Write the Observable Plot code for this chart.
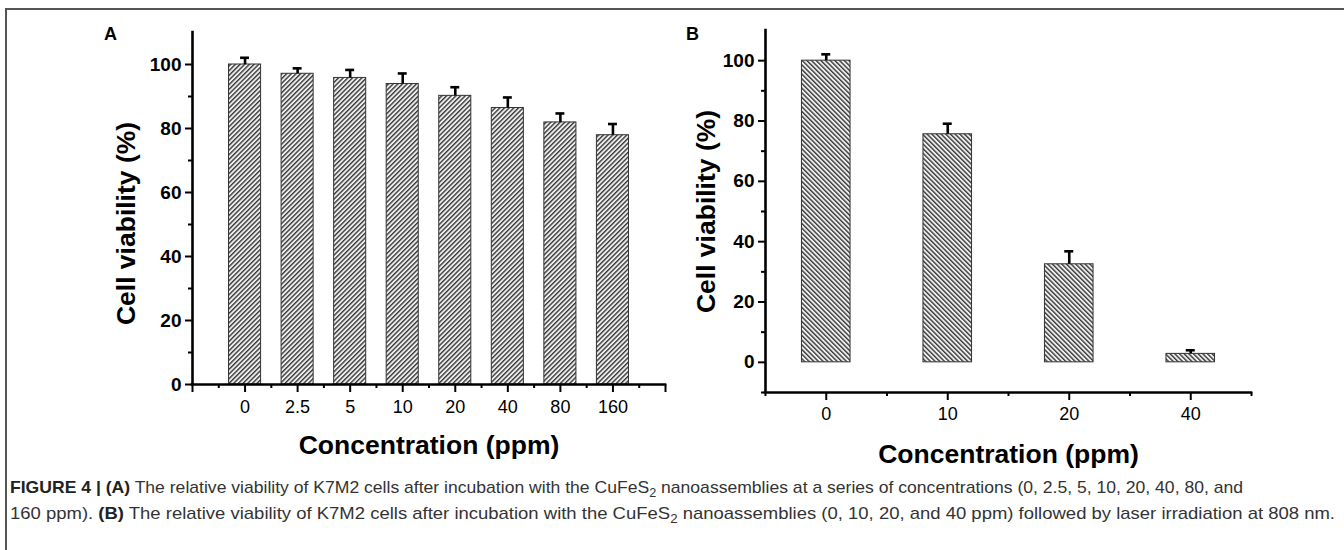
<!DOCTYPE html>
<html>
<head>
<meta charset="utf-8">
<script src="https://cdn.jsdelivr.net/npm/d3@7"></script>
<script src="https://cdn.jsdelivr.net/npm/@observablehq/plot@0.6"></script>
<style>
  html, body { margin: 0; padding: 0; background: #fff; }
  body { width: 1344px; height: 550px; position: relative; overflow: hidden; font-family: "Liberation Sans", Arial, sans-serif; }
  #frame { position: absolute; left: 5px; top: 8px; width: 1400px; height: 600px; border-top: 2px solid #555; border-left: 2px solid #555; }
  #panelA { position: absolute; left: 0; top: 0; }
  #panelB { position: absolute; left: 680px; top: 0; }
  .plabel { position: absolute; font-size: 18px; font-weight: bold; line-height: 1; color: #000; }
  .cap { position: absolute; left: 10px; white-space: nowrap; font-family: "Liberation Sans Narrow", "Arial Narrow", "Liberation Sans", Arial, sans-serif; font-size: 17px; line-height: 20px; color: #333; transform-origin: 0 50%; display: inline-block; }
  .cap b { color: #222; }
  .cap sub { font-size: 0.72em; vertical-align: -0.3em; line-height: 0; }
</style>
</head>
<body>
<div id="frame"></div>
<div id="panelA"></div>
<div id="panelB"></div>
<div class="plabel" style="left:104px; top:25px;">A</div>
<div class="plabel" style="left:686px; top:25px;">B</div>
<div class="cap" id="cap1" style="top:478px;"><b>FIGURE 4 | (A)</b> The relative viability of K7M2 cells after incubation with the CuFeS<sub>2</sub> nanoassemblies at a series of concentrations (0, 2.5, 5, 10, 20, 40, 80, and</div>
<div class="cap" id="cap2" style="top:504px;">160 ppm). <b>(B)</b> The relative viability of K7M2 cells after incubation with the CuFeS<sub>2</sub> nanoassemblies (0, 10, 20, and 40 ppm) followed by laser irradiation at 808 nm.</div>
<script>
// ---- Data: panel A ----
const concA = ["0", "2.5", "5", "10", "20", "40", "80", "160"];
const viabA = [100, 97.1, 95.8, 93.9, 90.2, 86.4, 81.9, 77.9];
const errA  = [2.1, 1.7, 2.5, 3.3, 2.7, 3.3, 2.8, 3.5];

// ---- Data: panel B ----
const concB = ["0", "10", "20", "40"];
const viabB = [100, 75.6, 32.5, 2.8];
const errB  = [2.1, 3.5, 4.3, 1.2];

// ---- Axis setup ----
const yTicksMajor = [0, 20, 40, 60, 80, 100];
const yTitle = "Cell viability (%)";
const xTitle = "Concentration (ppm)";

const FONT = "'Liberation Sans', Arial, Helvetica, sans-serif";

function addHatch(svg, id, angle) {
  const defs = d3.select(svg).insert("defs", ":first-child");
  const p = defs.append("pattern")
    .attr("id", id)
    .attr("patternUnits", "userSpaceOnUse")
    .attr("width", 3.3).attr("height", 3.3)
    .attr("patternTransform", `rotate(${angle})`);
  p.append("rect").attr("width", 3.3).attr("height", 3.3).attr("fill", "#eeeeee");
  p.append("rect").attr("width", 1.4).attr("height", 3.3).attr("fill", "#3a3a3a");
}

function panel({conc, viab, err, xDomain, yDomain, yMinor, xMinor, barHalf, capHalf,
                width, height, margins, hatchId, hatchAngle, yTitleDx, yTitleDy, xTitleDy, xTickPad}) {
  const data = conc.map((c, i) => ({i, c, v: viab[i], e: err[i]}));
  const xMajor = d3.range(Math.ceil(xDomain[0]), Math.floor(xDomain[1]) + 1);
  const svg = Plot.plot({
    width, height,
    marginLeft: margins[0], marginRight: margins[1], marginTop: margins[2], marginBottom: margins[3],
    x: {type: "linear", domain: xDomain, label: null},
    y: {type: "linear", domain: yDomain, label: null},
    style: {fontFamily: FONT, background: "transparent", overflow: "visible", color: "#000"},
    marks: [
      Plot.rectY(data, {x1: d => d.i - barHalf, x2: d => d.i + barHalf, y1: 0, y2: "v",
        fill: `url(#${hatchId})`, stroke: "#333", strokeWidth: 1}),
      Plot.ruleX(data, {x: "i", y1: "v", y2: d => d.v + d.e, stroke: "#000", strokeWidth: 2.6}),
      Plot.ruleY(data, {y: d => d.v + d.e, x1: d => d.i - capHalf, x2: d => d.i + capHalf, stroke: "#000", strokeWidth: 2.6}),
      Plot.axisY({ticks: yTicksMajor, tickSize: 7, tickPadding: 4, fontSize: 19, fontWeight: "bold",
        strokeWidth: 2, label: null}),
      Plot.axisY({ticks: yMinor, tickSize: 4, tickFormat: () => "", strokeWidth: 2, label: null}),
      Plot.axisX({ticks: xMajor, tickSize: 8, tickPadding: xTickPad, fontSize: 18,
        tickFormat: i => conc[i] ?? "", strokeWidth: 2, label: null}),
      Plot.axisX({ticks: xMinor, tickSize: 4, tickFormat: () => "", strokeWidth: 2, label: null}),
      Plot.ruleX([xDomain[0]], {stroke: "#000", strokeWidth: 2.6, strokeLinecap: "square"}),
      Plot.ruleY([yDomain[0]], {stroke: "#000", strokeWidth: 2.6, strokeLinecap: "square"}),
      Plot.text([yTitle], {text: d => d, frameAnchor: "left", textAnchor: "middle", rotate: -90,
        dx: yTitleDx, dy: yTitleDy, fontSize: 26.5, fontWeight: "bold", fill: "#000"}),
      Plot.text([xTitle], {text: d => d, frameAnchor: "bottom", textAnchor: "middle",
        dy: xTitleDy, fontSize: 26.5, fontWeight: "bold", fill: "#000"})
    ]
  });
  addHatch(svg, hatchId, hatchAngle);
  return svg;
}

const svgA = panel({
  conc: concA, viab: viabA, err: errA,
  xDomain: [-1, 8], yDomain: [0, 110],
  yMinor: [10, 30, 50, 70, 90],
  xMinor: d3.range(-0.5, 8, 1),
  barHalf: 0.305, capHalf: 0.085,
  width: 680, height: 470, margins: [192, 15, 32, 86],
  hatchId: "hatchA", hatchAngle: 45,
  yTitleDx: -66, yTitleDy: 15, xTitleDy: 69, xTickPad: 8
});
document.getElementById("panelA").appendChild(svgA);

const svgB = panel({
  conc: concB, viab: viabB, err: errB,
  xDomain: [-0.5, 3.5], yDomain: [-10, 110],
  yMinor: [-10, 10, 30, 50, 70, 90],
  xMinor: d3.range(-0.5, 3.6, 1),
  barHalf: 0.2, capHalf: 0.037,
  width: 664, height: 470, margins: [85, 93, 30, 78],
  hatchId: "hatchB", hatchAngle: -45,
  yTitleDx: -59, yTitleDy: 0, xTitleDy: 70, xTickPad: 7
});
document.getElementById("panelB").appendChild(svgB);

// fit caption lines to their widths in the reference
[["cap1", 1233], ["cap2", 1325]].forEach(([id, target]) => {
  const el = document.getElementById(id);
  const w = el.getBoundingClientRect().width;
  if (w > 0) el.style.transform = `scaleX(${target / w})`;
});
</script>
</body>
</html>
